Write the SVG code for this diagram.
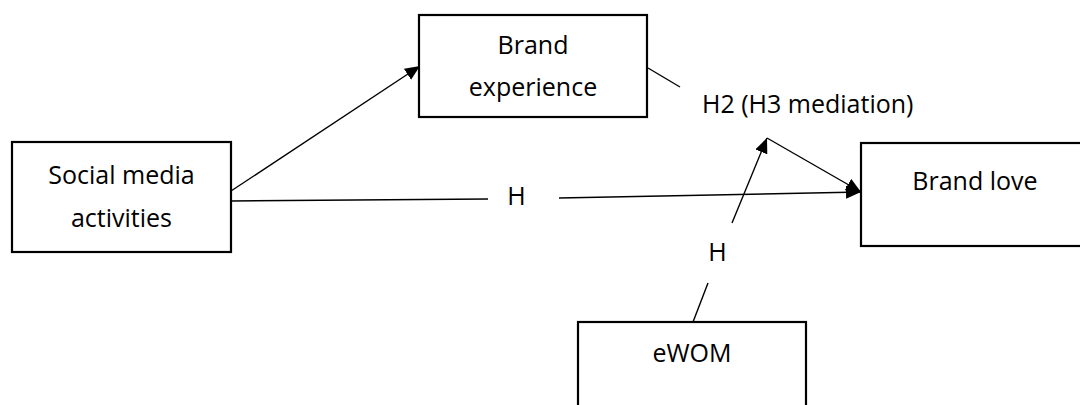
<svg xmlns="http://www.w3.org/2000/svg" width="1080" height="405" viewBox="0 0 1080 405">
  <style>
    .box { fill: #ffffff; stroke: #000000; stroke-width: 2.2; }
    .label { font-family: "Open Sans", "Liberation Sans", sans-serif; font-size: 25px; fill: #000000; }
    .mid { text-anchor: middle; }
    .link { fill: none; stroke: #000000; stroke-width: 1.4; }
  </style>
  <defs>
    <marker id="arrow" markerUnits="userSpaceOnUse" markerWidth="16" markerHeight="14" refX="15" refY="6.5" orient="auto">
      <path d="M0,0 L15,6.5 L0,13 Z" fill="#000000"/>
    </marker>
  </defs>

  <rect width="1080" height="405" fill="#ffffff"/>

  <!-- connectors -->
  <g id="connectors">
    <!-- Social media activities -> Brand experience -->
    <line class="link" x1="231" y1="191" x2="420" y2="66" marker-end="url(#arrow)"/>
    <!-- Social media activities -> Brand love (interrupted by label H) -->
    <line class="link" x1="231" y1="201" x2="488" y2="199"/>
    <line class="link" x1="559" y1="198" x2="861" y2="192" marker-end="url(#arrow)"/>
    <!-- Brand experience -> Brand love (interrupted by label H2 (H3 mediation)) -->
    <line class="link" x1="648" y1="68" x2="680" y2="87"/>
    <line class="link" x1="767" y1="138" x2="861" y2="192" marker-end="url(#arrow)"/>
    <!-- eWOM -> mediation path (interrupted by label H) -->
    <line class="link" x1="693" y1="322" x2="708" y2="283"/>
    <line class="link" x1="732" y1="223" x2="767" y2="138" marker-end="url(#arrow)"/>
  </g>

  <!-- connector labels -->
  <g id="labels">
    <text class="label" x="702" y="113">H2 (H3 mediation)</text>
    <text class="label mid" x="516.5" y="205">H</text>
    <text class="label mid" x="717.5" y="261">H</text>
  </g>

  <g id="node-social-media">
    <rect class="box" x="12" y="142" width="219" height="110"/>
    <text class="label mid" x="121.5" y="184">Social media</text>
    <text class="label mid" x="121.5" y="227">activities</text>
  </g>

  <g id="node-brand-experience">
    <rect class="box" x="419" y="15" width="228" height="102"/>
    <text class="label mid" x="533" y="54">Brand</text>
    <text class="label mid" x="533" y="96">experience</text>
  </g>

  <g id="node-brand-love">
    <rect class="box" x="861" y="143" width="240" height="103"/>
    <text class="label mid" x="975" y="190">Brand love</text>
  </g>

  <g id="node-ewom">
    <rect class="box" x="578" y="322" width="228" height="100"/>
    <text class="label mid" x="692" y="362">eWOM</text>
  </g>
</svg>
